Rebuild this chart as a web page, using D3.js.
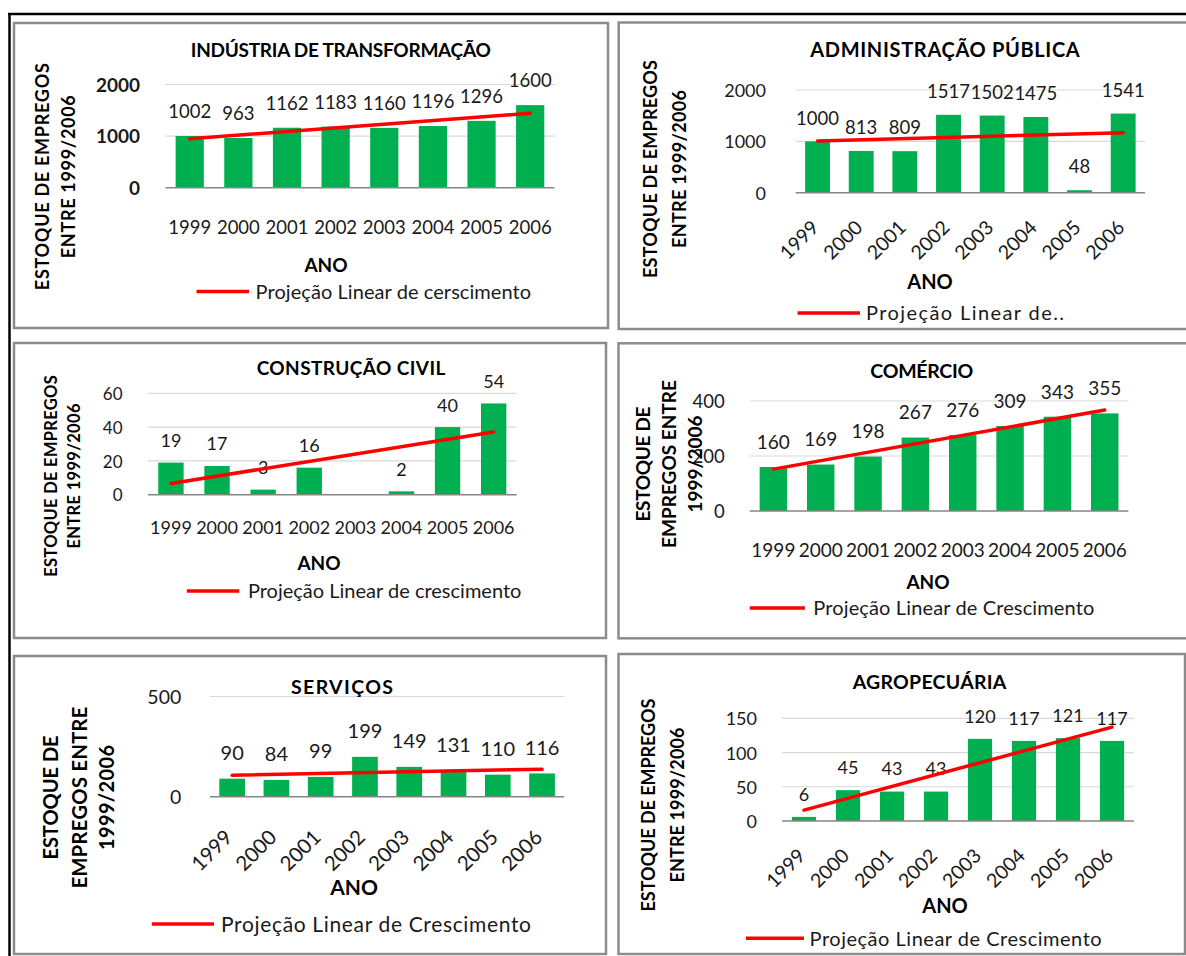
<!DOCTYPE html>
<html>
<head>
<meta charset="utf-8">
<script src="https://cdn.jsdelivr.net/npm/d3@7"></script>
<style>
  html, body { margin: 0; padding: 0; background: #fff; }
  svg { display: block; }
  text { font-family: Lato, "Open Sans", "DejaVu Sans", sans-serif; }
</style>
</head>
<body>
<svg id="chart" width="1186" height="956"></svg>
<script>
// ---- data ----
const years = ["1999", "2000", "2001", "2002", "2003", "2004", "2005", "2006"];

const industriaTransformacao = [1002, 963, 1162, 1183, 1160, 1196, 1296, 1600];
const administracaoPublica   = [1000, 813, 809, 1517, 1502, 1475, 48, 1541];
const construcaoCivil        = [19, 17, 3, 16, null, 2, 40, 54];
const comercio               = [160, 169, 198, 267, 276, 309, 343, 355];
const servicos               = [90, 84, 99, 199, 149, 131, 110, 116];
const agropecuaria           = [6, 45, 43, 43, 120, 117, 121, 117];

const sectorTitles = [
  "INDÚSTRIA DE TRANSFORMAÇÃO",
  "ADMINISTRAÇÃO PÚBLICA",
  "CONSTRUÇÃO CIVIL",
  "COMÉRCIO",
  "SERVIÇOS",
  "AGROPECUÁRIA"
];

const legendLabels = [
  "Projeção Linear de cerscimento",
  "Projeção Linear de..",
  "Projeção Linear de crescimento",
  "Projeção Linear de Crescimento",
  "Projeção Linear de Crescimento",
  "Projeção Linear de Crescimento"
];

const ticksIndustria = [0, 1000, 2000];
const ticksAdministracao = [0, 1000, 2000];
const ticksConstrucao = [0, 20, 40, 60];
const ticksComercio = [0, 200, 400];
const ticksServicos = [0, 500];
const ticksAgropecuaria = [0, 50, 100, 150];

const xAxisTitle = "ANO";
const yTitleTwoLines = ["ESTOQUE DE EMPREGOS", "ENTRE 1999/2006"];
const yTitleThreeLines = ["ESTOQUE DE", "EMPREGOS ENTRE", "1999/2006"];

// ---- layout of the six panels ----
const layouts = [
  { box: [14, 23, 608, 328], plot: [165.4, 554.5], base: 187.7, top: 84.5, pad: 0.42,
    tickRight: 140, tickSize: 19, tickBold: true,
    xlab: { size: 18.5, rotated: false, cy: 227 }, dataSize: 18.5, dataOff: 24.5,
    title: [340.8, 50, 19, 300], ano: [326, 265, 19],
    legend: { x0: 196.5, x1: 249, y: 291.5, tx: 255.6, size: 20, len: 275.5 },
    ytitle: { xs: [42.8, 68.1], cy: 176.7, size: 18, lens: [227, 163] } },
  { box: [618.7, 22.5, 1188, 329], plot: [795.7, 1145], base: 192.7, top: 90, pad: 0.43,
    tickRight: 766, tickSize: 18, tickBold: false,
    xlab: { size: 19.5, rotated: true, dx: 2.5, dy: 36 }, dataSize: 18.5, dataOff: 23.5,
    title: [945, 50, 20, 269.5], ano: [930, 282, 20],
    legend: { x0: 797.5, x1: 860, y: 313, tx: 866, size: 20, len: 198 },
    ytitle: { xs: [650.4, 679.9], cy: 169, size: 18, lens: [218, 158] } },
  { box: [14, 343, 606, 638], plot: [147.9, 516.7], base: 494.7, top: 393.3, pad: 0.45,
    tickRight: 122.6, tickSize: 17, tickBold: false,
    xlab: { size: 18, rotated: false, cy: 528 }, dataSize: 18, dataOff: 22,
    title: [351, 368, 19, 188.7], ano: [319, 563, 19],
    legend: { x0: 186.8, x1: 239.3, y: 591, tx: 247.9, size: 20, len: 273.5 },
    ytitle: { xs: [50.6, 74], cy: 476, size: 16.5, lens: [201.6, 145] } },
  { box: [618.5, 343.3, 1188, 638.3], plot: [749.7, 1128.4], base: 511, top: 401, pad: 0.42,
    tickRight: 724.7, tickSize: 18.5, tickBold: false,
    xlab: { size: 19, rotated: false, cy: 550 }, dataSize: 19, dataOff: 25,
    title: [921.8, 371, 19.5, 103], ano: [928, 582, 19],
    legend: { x0: 749.7, x1: 804.9, y: 608, tx: 813.3, size: 20, len: 281 },
    ytitle: { xs: [643, 669, 695], cy: 464, size: 19, lens: [115, 168, 97] } },
  { box: [14, 656, 606, 954], plot: [210, 564.2], base: 796.7, top: 696.5, pad: 0.42,
    tickRight: 181.3, tickSize: 19.5, tickBold: false,
    xlab: { size: 20.5, rotated: true, dx: 1.5, dy: 42 }, dataSize: 20, dataOff: 26,
    title: [342, 687, 19.5, 102], ano: [354, 887, 21],
    legend: { x0: 151.8, x1: 214, y: 924, tx: 221, size: 21, len: 310 },
    ytitle: { xs: [50.6, 79.8, 107], cy: 797.5, size: 20, lens: [null, 181.7, 105] } },
  { box: [618.5, 654, 1185, 954], plot: [782, 1134], base: 821, top: 718.3, pad: 0.45,
    tickRight: 757, tickSize: 18, tickBold: false,
    xlab: { size: 19.5, rotated: true, dx: 2.5, dy: 36 }, dataSize: 18, dataOff: 22.7,
    title: [929.5, 681.7, 19.5, 153.7], ano: [945, 906, 20],
    legend: { x0: 746, x1: 804, y: 938.3, tx: 809.6, size: 20, len: 292 },
    ytitle: { xs: [648.6, 678], cy: 805, size: 18, lens: [213, 155] } }
];

const panels = [
  { values: industriaTransformacao, ticks: ticksIndustria, yTitle: yTitleTwoLines },
  { values: administracaoPublica, ticks: ticksAdministracao, yTitle: yTitleTwoLines },
  { values: construcaoCivil, ticks: ticksConstrucao, yTitle: yTitleTwoLines },
  { values: comercio, ticks: ticksComercio, yTitle: yTitleThreeLines },
  { values: servicos, ticks: ticksServicos, yTitle: yTitleThreeLines },
  { values: agropecuaria, ticks: ticksAgropecuaria, yTitle: yTitleTwoLines }
];

const COLORS = { bar: "#00b050", trend: "#ff0000", grid: "#d9d9d9", axis: "#868686",
                 frame: "#8c8c8c", text: "#1a1a1a" };

const svg = d3.select("#chart");

// outer page frame (top and left rules)
svg.append("line").attr("x1", 8).attr("x2", 1186).attr("y1", 14).attr("y2", 14)
  .attr("stroke", "#000").attr("stroke-width", 2.5);
svg.append("line").attr("x1", 9.5).attr("x2", 9.5).attr("y1", 13).attr("y2", 956)
  .attr("stroke", "#000").attr("stroke-width", 2.5);

// least-squares linear trend over the non-empty points (index 1..n)
function linearTrend(values) {
  const pts = values.map((v, i) => [i + 1, v]).filter(p => p[1] != null);
  const mx = d3.mean(pts, p => p[0]), my = d3.mean(pts, p => p[1]);
  const sxy = d3.sum(pts, p => (p[0] - mx) * (p[1] - my));
  const sxx = d3.sum(pts, p => (p[0] - mx) ** 2);
  const slope = sxy / sxx;
  return i => my + slope * (i - mx);
}

panels.forEach((p, k) => {
  const L = layouts[k];
  const g = svg.append("g");

  g.append("rect")
    .attr("x", L.box[0]).attr("y", L.box[1])
    .attr("width", L.box[2] - L.box[0]).attr("height", L.box[3] - L.box[1])
    .attr("fill", "#fff").attr("stroke", COLORS.frame).attr("stroke-width", 2.5);

  const x = d3.scaleBand().domain(years).range([L.plot[0], L.plot[1]])
    .paddingInner(L.pad).paddingOuter(L.pad / 2);
  const yMax = d3.max(p.ticks);
  const y = d3.scaleLinear().domain([0, yMax]).range([L.base, L.top]);

  // horizontal gridlines
  g.append("g").selectAll("line").data(p.ticks.filter(t => t > 0)).join("line")
    .attr("x1", L.plot[0]).attr("x2", L.plot[1])
    .attr("y1", d => y(d)).attr("y2", d => y(d))
    .attr("stroke", COLORS.grid).attr("stroke-width", 1.2);

  // value axis
  const ya = g.append("g").attr("transform", `translate(${L.tickRight},0)`)
    .call(d3.axisLeft(y).tickValues(p.ticks).tickSize(0).tickPadding(0).tickFormat(d3.format("d")));
  ya.select(".domain").remove();
  ya.selectAll("text")
    .attr("font-family", "Lato, sans-serif")
    .attr("font-size", L.tickSize)
    .attr("font-weight", L.tickBold ? 700 : 400)
    .attr("fill", COLORS.text)
    .attr("dy", "0.36em");

  // bars
  const rows = years.map((yr, i) => ({ yr, v: p.values[i] }));
  g.append("g").selectAll("rect").data(rows.filter(r => r.v != null)).join("rect")
    .attr("x", d => x(d.yr)).attr("width", x.bandwidth())
    .attr("y", d => y(d.v)).attr("height", d => L.base - y(d.v))
    .attr("fill", COLORS.bar);

  // category axis
  const xa = g.append("g").attr("transform", `translate(0,${L.base})`)
    .call(d3.axisBottom(x).tickSize(0).tickPadding(0));
  xa.select(".domain").attr("stroke", COLORS.axis).attr("stroke-width", 1.6)
    .attr("d", `M${L.plot[0]},0H${L.plot[1]}`);
  const xt = xa.selectAll("text")
    .attr("font-family", "Lato, sans-serif")
    .attr("font-size", L.xlab.size)
    .attr("fill", COLORS.text);
  if (L.xlab.rotated) {
    xt.attr("text-anchor", "end").attr("x", 0).attr("y", 0).attr("dy", 0)
      .attr("transform", `translate(${L.xlab.dx},${L.xlab.dy}) rotate(-45)`);
  } else {
    xt.attr("y", L.xlab.cy - L.base).attr("dy", "0.36em");
  }

  // data labels
  g.append("g").selectAll("text").data(rows.filter(r => r.v != null)).join("text")
    .attr("x", d => x(d.yr) + x.bandwidth() / 2)
    .attr("y", d => y(d.v) - L.dataOff)
    .attr("dy", "0.36em")
    .attr("text-anchor", "middle")
    .attr("font-size", L.dataSize)
    .attr("fill", COLORS.text)
    .text(d => d.v);

  // linear growth projection
  const trend = linearTrend(p.values);
  const cx = i => x(years[i]) + x.bandwidth() / 2;
  const n = years.length;
  g.append("path")
    .attr("d", d3.line()([[cx(0), y(trend(1))], [cx(n - 1), y(trend(n))]]))
    .attr("stroke", COLORS.trend).attr("stroke-width", 3.5).attr("fill", "none")
    .attr("stroke-linecap", "round");

  // chart title
  g.append("text")
    .attr("x", L.title[0]).attr("y", L.title[1]).attr("dy", "0.36em")
    .attr("text-anchor", "middle").attr("font-weight", 700)
    .attr("font-size", L.title[2]).attr("fill", "#000")
    .attr("textLength", L.title[3]).attr("lengthAdjust", "spacing")
    .text(sectorTitles[k]);

  // category axis title
  g.append("text")
    .attr("x", L.ano[0]).attr("y", L.ano[1]).attr("dy", "0.36em")
    .attr("text-anchor", "middle").attr("font-weight", 700)
    .attr("font-size", L.ano[2]).attr("fill", "#000")
    .text(xAxisTitle);

  // value axis title
  p.yTitle.forEach((line, j) => {
    const t = g.append("text")
      .attr("transform", `translate(${L.ytitle.xs[j]},${L.ytitle.cy}) rotate(-90)`)
      .attr("dy", "0.36em")
      .attr("text-anchor", "middle").attr("font-weight", 700)
      .attr("font-size", L.ytitle.size).attr("fill", "#000")
      .text(line);
    if (L.ytitle.lens[j]) t.attr("textLength", L.ytitle.lens[j]).attr("lengthAdjust", "spacing");
  });

  // legend
  g.append("line")
    .attr("x1", L.legend.x0).attr("x2", L.legend.x1)
    .attr("y1", L.legend.y).attr("y2", L.legend.y)
    .attr("stroke", COLORS.trend).attr("stroke-width", 3.5);
  g.append("text")
    .attr("x", L.legend.tx).attr("y", L.legend.y).attr("dy", "0.36em")
    .attr("font-size", L.legend.size).attr("fill", COLORS.text)
    .attr("textLength", L.legend.len).attr("lengthAdjust", "spacing")
    .text(legendLabels[k]);
});
</script>
</body>
</html>
